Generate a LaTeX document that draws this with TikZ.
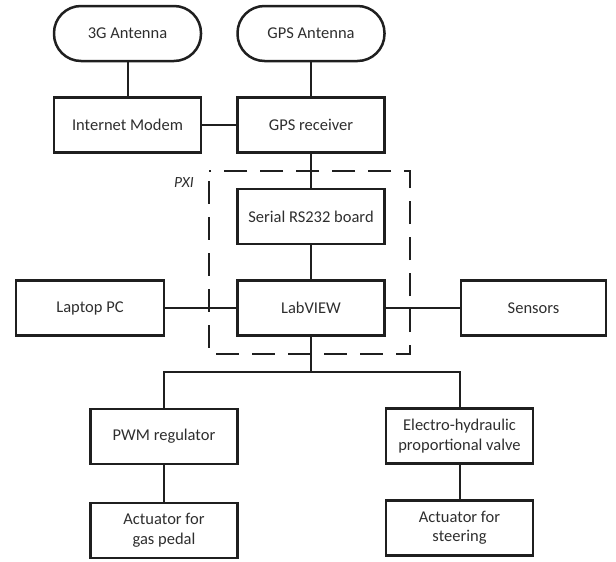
\documentclass[tikz,border=0pt]{standalone}
\usepackage{fontspec}
\setmainfont{Carlito}
\begin{document}
\begin{tikzpicture}[x=1pt,y=-1pt,
  every node/.style={font=\fontsize{16.5}{19.5}\selectfont, text=black!82},
  blk/.style={draw=black!88, line width=2.5pt, minimum width=147pt, minimum height=55pt, inner sep=0pt, align=center},
  ant/.style={blk, rounded corners=27pt},
  conn/.style={line width=2pt, draw=black!88},
  pxibox/.style={line width=2pt, draw=black!88, dash pattern=on 23pt off 13pt, dash phase=-10pt}]
\useasboundingbox (0,0) rectangle (616,562);
\node[ant] (ant3g) at (127.5,33.5) {3G Antenna};
\node[ant] (antgps) at (311,33.5) {GPS Antenna};
\node[blk] (modem) at (127.5,125) {Internet Modem};
\node[blk] (gpsr) at (311,125) {GPS receiver};
\node[blk] (serial) at (311,216.5) {Serial RS232 board};
\node[blk] (labview) at (311,308) {LabVIEW};
\node[blk, minimum width=148pt] (laptop) at (90,308) {Laptop PC};
\node[blk, minimum width=145pt] (sensors) at (533.5,308) {Sensors};
\node[blk] (pwm) at (164,436.5) {PWM regulator};
\node[blk] (electro) at (459.5,436) {Electro-hydraulic\\proportional valve};
\node[blk] (actgas) at (164,530.5) {Actuator for\\gas pedal};
\node[blk] (actsteer) at (459.5,528) {Actuator for\\steering};
\node[font=\fontsize{15.5}{17}\selectfont\itshape] (pxi) at (184,183) {PXI};
\draw[pxibox] (209,171) rectangle (410,354);
\coordinate (busy) at (0,372);
\draw[conn] (ant3g) -- (modem);
\draw[conn] (antgps) -- (gpsr);
\draw[conn] (modem) -- (gpsr);
\draw[conn] (gpsr) -- (serial);
\draw[conn] (serial) -- (labview);
\draw[conn] (laptop) -- (labview);
\draw[conn] (labview) -- (sensors);
\draw[conn] (labview.south) -- (labview.south |- busy);
\draw[conn] (pwm.north) -- (pwm.north |- busy) -- (electro.north |- busy) -- (electro.north);
\draw[conn] (pwm) -- (actgas);
\draw[conn] (electro) -- (actsteer);
\end{tikzpicture}
\end{document}
